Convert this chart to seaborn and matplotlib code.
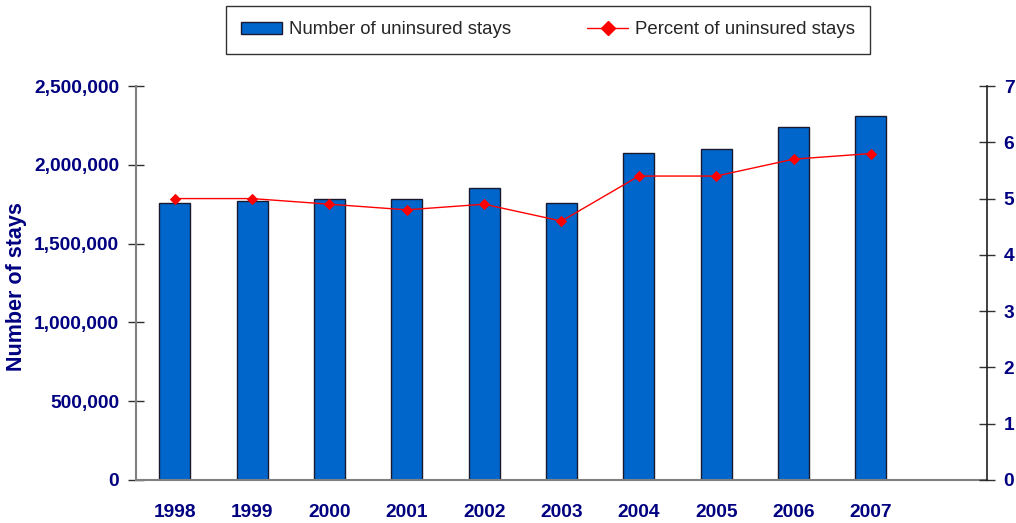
import matplotlib
matplotlib.use("Agg")
import matplotlib.pyplot as plt
import seaborn as sns
import numpy as np
from matplotlib.patches import Patch
from matplotlib.lines import Line2D
from matplotlib.ticker import FuncFormatter, FixedLocator

years = ["1998", "1999", "2000", "2001", "2002", "2003", "2004", "2005", "2006", "2007"]
stays = [1760000, 1770000, 1780000, 1780000, 1850000, 1760000, 2075000, 2100000, 2240000, 2310000]
pct = [5.0, 5.0, 4.9, 4.8, 4.9, 4.6, 5.4, 5.4, 5.7, 5.8]
bar_label = "Number of uninsured stays"
line_label = "Percent of uninsured stays"

sns.set_style("white")
plt.rcParams['font.family'] = ['Liberation Sans', 'DejaVu Sans']

navy = "#000080"
fig = plt.figure(figsize=(10.16, 5.23), dpi=100)
ax = fig.add_axes([136/1016, 43/523, (987-136)/1016, (480-86)/523])

sns.barplot(x=years, y=stays, ax=ax, color="#0066CC", saturation=1, width=0.4,
            edgecolor="#1a1a2e", linewidth=1)
ax2 = ax.twinx()
sns.pointplot(x=years, y=pct, ax=ax2, color="red", markers="D", markersize=5.5,
              linewidth=1)

for a in (ax, ax2):
    a.set_xlim(-0.5, 10.5)
ax.set_ylim(0, 2500000)
ax2.set_ylim(0, 7)
ax.set_yticks(np.arange(0, 2500001, 500000))
ax.yaxis.set_major_formatter(FuncFormatter(lambda v, p: f"{int(v):,}"))
ax2.set_yticks(range(0, 8))

ax.xaxis.set_minor_locator(FixedLocator(np.arange(-0.5, 10.6, 1)))
ax.tick_params(axis='x', which='major', length=0, pad=17)
ax.tick_params(axis='x', which='minor', length=12, direction='inout', width=1, color='#303030')
ax.tick_params(axis='y', length=12, direction='inout', width=1, color='#303030', pad=6)
ax2.tick_params(axis='y', length=12, direction='inout', width=1, color='#303030', pad=6)

for lab in ax.get_xticklabels() + ax.get_yticklabels() + ax2.get_yticklabels():
    lab.set_fontweight('bold')
    lab.set_color(navy)
    lab.set_fontsize(13.8)

ax.set_ylabel("Number of stays", fontsize=15.5, fontweight='bold', color=navy)
ax.yaxis.set_label_coords(-0.128, 0.491)
ax2.set_ylabel("")
ax.set_xlabel("")

for a in (ax, ax2):
    a.spines['top'].set_visible(False)
    a.spines['left'].set_color('#808080')
    a.spines['bottom'].set_color('#808080')
    a.spines['right'].set_color('#202020')
    a.spines['left'].set_linewidth(1.5)
    a.spines['bottom'].set_linewidth(1.5)
    a.spines['right'].set_linewidth(1.2)
ax.spines['right'].set_visible(False)
ax2.spines['left'].set_visible(False)
ax2.spines['bottom'].set_visible(False)

handles = [Patch(facecolor="#0066CC", edgecolor="#1a1a2e", label=bar_label),
           Line2D([0], [0], color='red', marker='D', markersize=7, lw=1, label=line_label)]
leg = fig.legend(handles=handles, loc='center', bbox_to_anchor=(548/1016, 1 - 30/523),
                 ncol=2, frameon=True, fancybox=False, edgecolor='black',
                 fontsize=13.4, handlelength=2.2, columnspacing=4.1, borderpad=0.85,
                 handletextpad=0.35, handleheight=0.6)
leg.get_frame().set_linewidth(1)

fig.savefig("out.png", dpi=100)
